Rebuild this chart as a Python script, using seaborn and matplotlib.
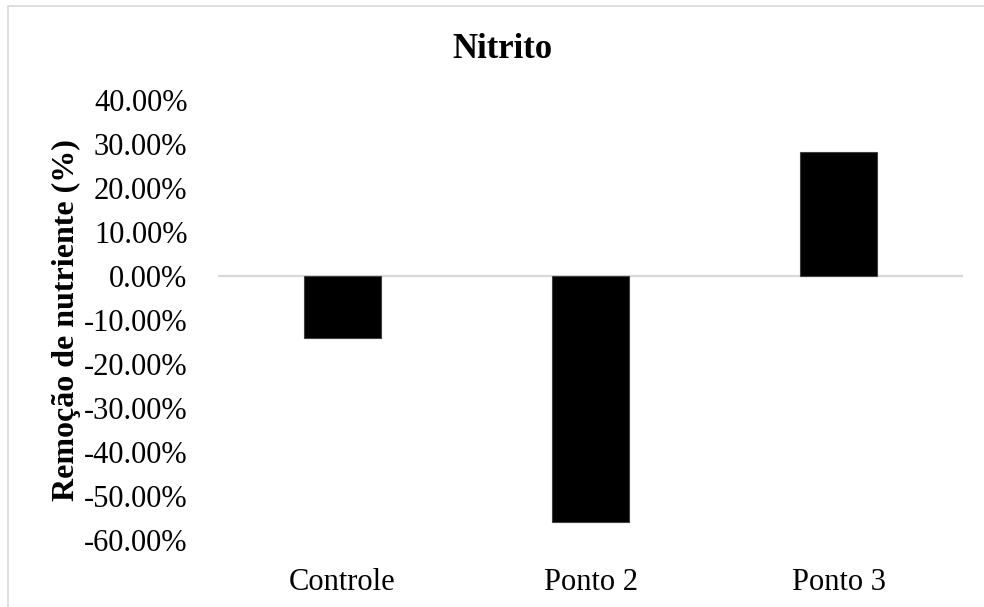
import matplotlib
matplotlib.use("Agg")
import matplotlib.pyplot as plt
import seaborn as sns
import pandas as pd
from matplotlib.patches import Rectangle

# Nitrite removal per sampling point (fraction)
categories = ["Controle", "Ponto 2", "Ponto 3"]
removal = [-0.141, -0.558, 0.281]
y_ticks = [0.4, 0.3, 0.2, 0.1, 0.0, -0.1, -0.2, -0.3, -0.4, -0.5, -0.6]
y_tick_labels = ["40.00%", "30.00%", "20.00%", "10.00%", "0.00%", "-10.00%",
                 "-20.00%", "-30.00%", "-40.00%", "-50.00%", "-60.00%"]
title = "Nitrito"
y_label = "Remoção de nutriente (%)"

sns.set_style("white")
plt.rcParams["font.family"] = ["Liberation Serif", "DejaVu Serif"]
plt.rcParams["text.color"] = "black"
plt.rcParams["xtick.color"] = "black"
plt.rcParams["ytick.color"] = "black"
plt.rcParams["axes.labelcolor"] = "black"

W, H = 984, 607
fig = plt.figure(figsize=(W / 100, H / 100), dpi=100)

# plot area in pixel coordinates
left_px, right_px = 218, 963
top_px, bottom_px = 100, 540
ax = fig.add_axes([left_px / W, 1 - bottom_px / H,
                   (right_px - left_px) / W, (bottom_px - top_px) / H])

df = pd.DataFrame({"ponto": categories, "remocao": removal})
sns.barplot(data=df, x="ponto", y="remocao", order=categories, color="black",
            width=0.31, edgecolor="#404040", linewidth=0.8, saturation=1,
            ax=ax, zorder=3)

ax.axhline(0, color="#d9d9d9", lw=1.6, zorder=2)
ax.set_ylim(-0.6, 0.4)
ax.set_xlim(-0.5, len(categories) - 0.5)
ax.set_yticks(y_ticks)
ax.set_yticklabels(y_tick_labels, fontsize=22)
ax.tick_params(axis="y", length=0, pad=22)
ax.tick_params(axis="x", length=0, pad=20, labelsize=22)
for s in ax.spines.values():
    s.set_visible(False)
ax.set_xlabel("")
ax.set_ylabel(y_label, fontsize=23, fontweight="bold")
ax.yaxis.set_label_coords(-(left_px - 81) / (right_px - left_px), 0.5)

fig.text(502 / W, 1 - 50 / H, title,
         fontsize=25, fontweight="bold", ha="center", va="center")

# chart frame
fig.patches.append(Rectangle((8 / W, -0.1), 1.2, 1 - 6 / H + 0.1,
                             transform=fig.transFigure, fill=False,
                             edgecolor="#d9d9d9", lw=1.2))

fig.savefig("out.png", dpi=100, facecolor="white")
